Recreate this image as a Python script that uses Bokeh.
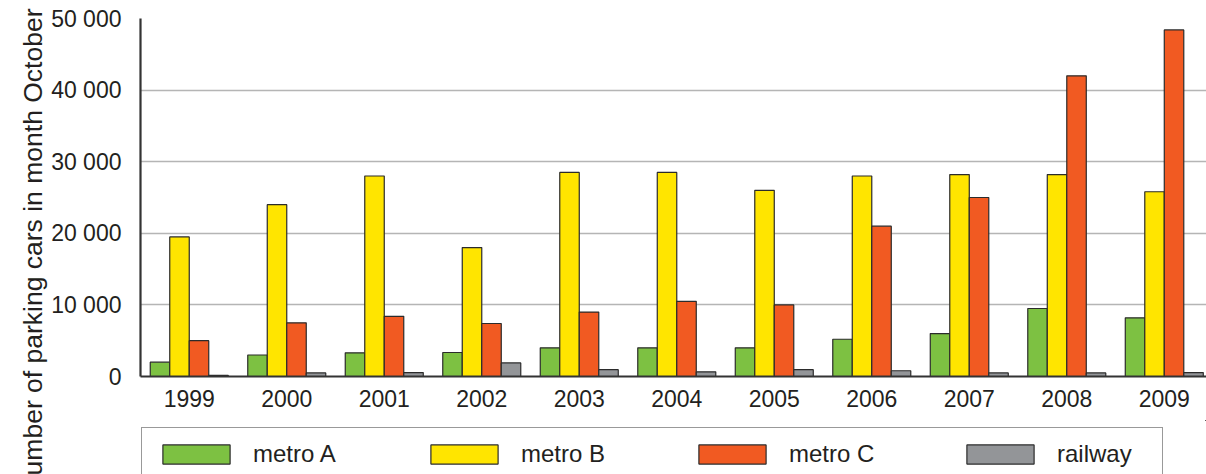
import math

from bokeh.embed import file_html
from bokeh.layouts import column, row
from bokeh.models import (ColumnDataSource, FixedTicker, Label, Legend,
                          LegendItem, Range1d)
from bokeh.plotting import figure
from bokeh.resources import INLINE
from bokeh.transform import dodge

# Parking cars counted in October, per year and per park-and-ride site
years = [1999, 2000, 2001, 2002, 2003, 2004, 2005, 2006, 2007, 2008, 2009]
metro_a = [2000, 3000, 3300, 3350, 4000, 4000, 4000, 5200, 6000, 9500, 8200]
metro_b = [19500, 24000, 28000, 18000, 28500, 28500, 26000, 28000, 28200, 28200, 25800]
metro_c = [5000, 7500, 8400, 7400, 9000, 10500, 10000, 21000, 25000, 42000, 48400]
railway = [150, 500, 550, 1900, 950, 650, 950, 800, 500, 500, 550]

series_names = ["metro A", "metro B", "metro C", "railway"]
series_keys = ["metro_a", "metro_b", "metro_c", "railway"]
series_colors = ["#7dc142", "#ffe500", "#f15a22", "#939598"]
y_ticks = [0, 10000, 20000, 30000, 40000, 50000]
y_tick_labels = ["0", "10 000", "20 000", "30 000", "40 000", "50 000"]
y_title = "number of parking cars in month October"

FONT = "Liberation Sans"
TEXT = "#231f20"
OUTLINE = "#2b2b2b"

source = ColumnDataSource(dict(year=years, metro_a=metro_a, metro_b=metro_b,
                               metro_c=metro_c, railway=railway))


def bare_figure(w, h, x_range=(0, 1), y_range=(0, 1)):
    f = figure(width=w, height=h, output_backend="svg", toolbar_location=None,
               x_axis_type=None, y_axis_type=None, min_border=0,
               x_range=Range1d(*x_range), y_range=Range1d(*y_range))
    f.outline_line_color = None
    f.grid.visible = False
    return f


# --- left strip carrying the rotated y title -------------------------------
title_fig = bare_figure(48, 474)
title_fig.add_layout(Label(x=32, y=466, x_units="screen", y_units="screen",
                           text=y_title, angle=math.pi / 2, text_align="right",
                           text_baseline="alphabetic", text_font=FONT,
                           text_font_size="26.5px", text_color=TEXT))

# --- main bar chart ---------------------------------------------------------
p = figure(width=1158, height=420, output_backend="svg", toolbar_location=None,
           x_range=Range1d(1998.5, 2009.433), y_range=Range1d(0, 50000),
           min_border_left=92, min_border_right=0, min_border_top=18,
           min_border_bottom=44)
p.outline_line_color = None

offsets = [-0.3, -0.1, 0.1, 0.3]
renderers = []
for key, off, col in zip(series_keys, offsets, series_colors):
    r = p.vbar(x=dodge("year", off, range=p.x_range), top=key, bottom=0,
               width=0.2, source=source, fill_color=col,
               line_color=OUTLINE, line_width=1.2)
    renderers.append(r)

p.xgrid.grid_line_color = None
p.ygrid.grid_line_color = "#b5b5b5"
p.ygrid.grid_line_width = 1.6
p.ygrid.ticker = FixedTicker(ticks=y_ticks)

p.yaxis.ticker = FixedTicker(ticks=y_ticks)
p.yaxis.major_label_overrides = {t: s for t, s in zip(y_ticks, y_tick_labels)}
p.yaxis.axis_line_color = "#333333"
p.yaxis.axis_line_width = 2.2
p.yaxis.major_tick_line_color = None
p.yaxis.minor_tick_line_color = None
p.yaxis.major_label_standoff = 13
p.yaxis.major_label_text_baseline = "hanging"
p.yaxis.major_label_text_font = FONT
p.yaxis.major_label_text_font_size = "23px"
p.yaxis.major_label_text_color = TEXT

p.xaxis.ticker = FixedTicker(ticks=years)
p.xaxis.major_label_overrides = {y: str(y) for y in years}
p.xaxis.axis_line_color = "#333333"
p.xaxis.axis_line_width = 2.2
p.xaxis.major_tick_line_color = None
p.xaxis.minor_tick_line_color = None
p.xaxis.major_label_standoff = 7
p.xaxis.major_label_text_font = FONT
p.xaxis.major_label_text_font_size = "23px"
p.xaxis.major_label_text_color = TEXT

# --- legend strip under the chart -------------------------------------------
# the swatch renderers share the bar data; this strip's view range lies
# away from the data, so only their legend entries show
legend_fig = bare_figure(1158, 54, x_range=(1900, 1950),
                         y_range=(-100000, -50000))
swatches = [legend_fig.vbar(x="year", top=key, width=0.2, source=source,
                            fill_color=c, line_color=OUTLINE, line_width=1.2)
            for key, c in zip(series_keys, series_colors)]
legend = Legend(items=[LegendItem(label=n, renderers=[r])
                       for n, r in zip(series_names, swatches)],
                orientation="horizontal", location=(1, -7),
                glyph_width=84, glyph_height=24, label_standoff=15,
                label_width=93, label_height=24, spacing=76, padding=12,
                border_line_color="#333333", border_line_width=1.6,
                background_fill_alpha=0,
                label_text_font=FONT, label_text_font_size="24px",
                label_text_color=TEXT)
legend_fig.add_layout(legend, "center")

layout = row(title_fig, column(p, legend_fig, spacing=0), spacing=0)

open("out.html", "w").write(file_html(layout, INLINE))
